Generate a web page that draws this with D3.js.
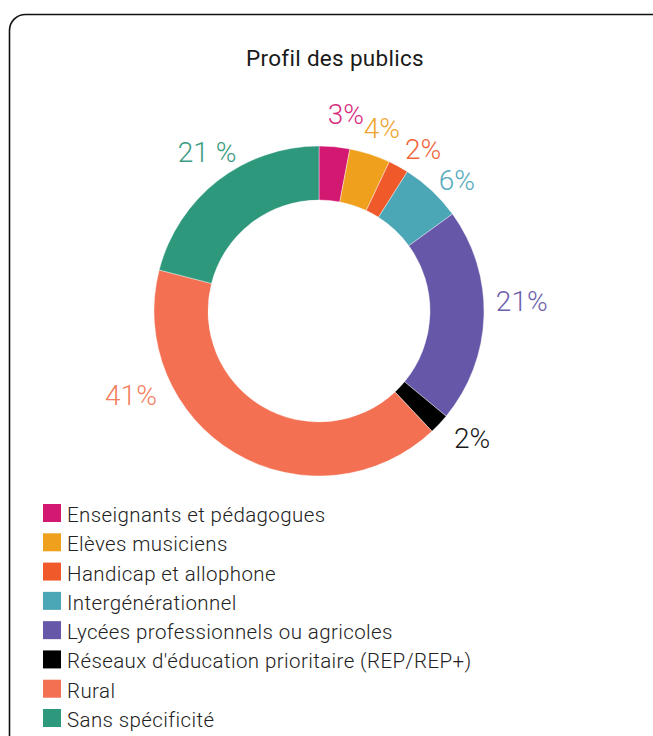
<!DOCTYPE html>
<html>
<head>
<meta charset="utf-8">
<script src="https://cdn.jsdelivr.net/npm/d3@7"></script>
<style>
  html, body { margin: 0; padding: 0; background: #fff; }
  svg { display: block; }
</style>
</head>
<body>
<svg id="chart" width="653" height="736"></svg>
<script>
// Audience profile, share of each public (percent)
const categories = [
  "Enseignants et pédagogues",
  "Elèves musiciens",
  "Handicap et allophone",
  "Intergénérationnel",
  "Lycées professionnels ou agricoles",
  "Réseaux d'éducation prioritaire (REP/REP+)",
  "Rural",
  "Sans spécificité"
];
const values = [3, 4, 2, 6, 21, 2, 41, 21];
const labelText = ["3%", "4%", "2%", "6%", "21%", "2%", "41%", "21 %"];
const colors = ["#d31872", "#efa11e", "#f05a2a", "#4ba6b6", "#6657a8", "#000000", "#f37052", "#2e987c"];
const labelColors = ["#d72d7f", "#efa530", "#f0653a", "#55aabb", "#6e60ad", "#1a1a1a", "#f3805f", "#3a9c81"];

// label placement around the ring: [angle in degrees clockwise from top, radius]
const labelPlacement = [
  [7.8, 198], [19, 193], [32.7, 192.5], [46.5, 190],
  [87.2, 203], [129.9, 199.5], [245.9, 206], [324.7, 193.7]
];

const svg = d3.select("#chart");

// card frame with a rounded top-left corner
svg.append("rect")
  .attr("x", 9.5).attr("y", 14.5)
  .attr("width", 700).attr("height", 800)
  .attr("rx", 16).attr("ry", 16)
  .attr("fill", "none")
  .attr("stroke", "#111")
  .attr("stroke-width", 1.6);

svg.append("text")
  .attr("x", 335).attr("y", 66)
  .attr("text-anchor", "middle")
  .attr("font-family", "Roboto, 'DejaVu Sans', sans-serif")
  .attr("font-size", 22.5)
  .attr("letter-spacing", 0.3)
  .attr("fill", "#1a1a1a")
  .text("Profil des publics");

const cx = 319, cy = 311, outerR = 165, innerR = 111;
const g = svg.append("g").attr("transform", `translate(${cx},${cy})`);

const pie = d3.pie().sort(null).value(d => d)(values);
const arc = d3.arc().innerRadius(innerR).outerRadius(outerR);

g.selectAll("path.slice")
  .data(pie)
  .join("path")
  .attr("class", "slice")
  .attr("d", arc)
  .attr("fill", (d, i) => colors[i])
  .attr("stroke", "#fff")
  .attr("stroke-width", 0.4);

const rad = Math.PI / 180;
g.selectAll("text.pct")
  .data(pie)
  .join("text")
  .attr("class", "pct")
  .attr("x", (d, i) => labelPlacement[i][1] * Math.sin(labelPlacement[i][0] * rad))
  .attr("y", (d, i) => -labelPlacement[i][1] * Math.cos(labelPlacement[i][0] * rad))
  .attr("text-anchor", "middle")
  .attr("dominant-baseline", "central")
  .attr("font-family", "Roboto, 'DejaVu Sans', sans-serif")
  .attr("font-weight", 300)
  .attr("font-size", 28)
  .attr("fill", (d, i) => labelColors[i])
  .text((d, i) => labelText[i]);

// legend
const legendY = d3.scalePoint().domain(categories).range([513, 718]);
const legend = svg.append("g");
const items = legend.selectAll("g.item")
  .data(categories)
  .join("g")
  .attr("class", "item")
  .attr("transform", d => `translate(0,${legendY(d)})`);

items.append("rect")
  .attr("x", 43).attr("y", -9)
  .attr("width", 18).attr("height", 18)
  .attr("fill", (d, i) => colors[i]);

items.append("text")
  .attr("x", 67).attr("y", 9)
  .attr("font-family", "Roboto, 'DejaVu Sans', sans-serif")
  .attr("font-weight", 300)
  .attr("font-size", 20.5)
  .attr("letter-spacing", 0.4)
  .attr("fill", "#222")
  .text(d => d);
</script>
</body>
</html>
